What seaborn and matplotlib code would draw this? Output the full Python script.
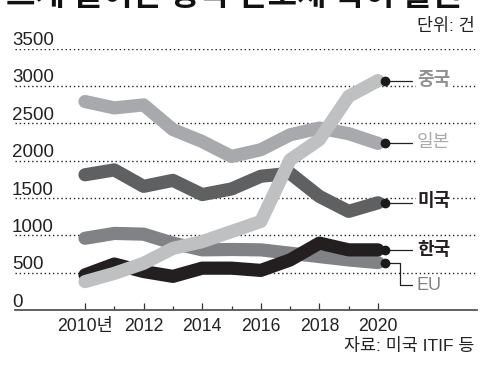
import pandas as pd
import seaborn as sns
import matplotlib.pyplot as plt

years = list(range(2010, 2021))
china = [380, 490, 625, 825, 915, 1050, 1185, 2010, 2280, 2860, 3070]
japan = [2790, 2705, 2745, 2415, 2255, 2055, 2145, 2345, 2435, 2360, 2230]
usa = [1810, 1875, 1655, 1735, 1545, 1620, 1790, 1830, 1520, 1320, 1435]
eu = [960, 1025, 1015, 895, 805, 810, 805, 760, 715, 670, 635]
korea = [470, 615, 515, 450, 560, 560, 530, 670, 895, 805, 805]

names = ['일본', '미국', 'EU', '한국', '중국']
series = [japan, usa, eu, korea, china]
colors = ['#a7a9ac', '#5f6062', '#818285', '#231f20', '#bfc0c2']
y_ticks = [0, 500, 1000, 1500, 2000, 2500, 3000, 3500]

df = pd.DataFrame({
    'year': years * len(names),
    'count': sum(series, []),
    'country': [n for n in names for _ in years],
})

sns.set_style('white')
plt.rcParams['font.family'] = ['Liberation Sans', 'Noto Sans CJK KR']

fig = plt.figure(figsize=(4.82, 3.65), dpi=100)
ax = fig.add_axes([15 / 482, 55 / 365, 462 / 482, 261.5 / 365])

# x: 2010 at 85px, 29.3px per year; y: 0 at bottom, 3500 at top
ax.set_xlim(2010 - 70 / 29.3, 2010 + 392 / 29.3)
ax.set_ylim(0, 3500)

# dotted gridlines
for v in y_ticks[1:]:
    ax.axhline(v, xmin=0, xmax=460 / 462, color='#222222', lw=1.0,
               ls=(0, (1, 2)), zorder=1)

for v in y_ticks:
    ax.text(-3 / 462, v + 45, str(v), transform=ax.get_yaxis_transform(),
            fontsize=13.5, color='#222222', ha='left', va='baseline')

sns.lineplot(data=df, x='year', y='count', hue='country', hue_order=names,
             palette=dict(zip(names, colors)), linewidth=9.5, legend=False,
             solid_capstyle='round', solid_joinstyle='round', ax=ax,
             zorder=3, clip_on=False)

# end markers, connectors and labels
label_y = {'중국': 3070, '일본': 2239, '미국': 1448, '한국': 791, 'EU': 330}
label_style = {
    '중국': ('#8e9092', 'bold'),
    '일본': ('#a7a9ac', 'normal'),
    '미국': ('#231f20', 'bold'),
    '한국': ('#231f20', 'bold'),
    'EU': ('#808285', 'normal'),
}
x_dot = 2020 + 6.5 / 29.3
x_end = 2010 + 327 / 29.3
x_lab = 2010 + 332 / 29.3
for n, s in zip(names, series):
    yv = s[-1]
    if n == 'EU':
        xe = 2010 + 315 / 29.3
        ax.plot([x_dot, xe, xe, x_end], [yv, yv, label_y[n], label_y[n]],
                color='#222222', lw=0.9, zorder=5, clip_on=False)
    else:
        ax.plot([x_dot, x_end], [yv, yv], color='#222222', lw=0.9,
                zorder=5, clip_on=False)
    ax.plot([x_dot], [yv], 'o', color='#1a1a1a', ms=6, zorder=6,
            clip_on=False)
    c, w = label_style[n]
    ax.text(x_lab, label_y[n], n, fontsize=13, color=c, fontweight=w,
            ha='left', va='center', zorder=6,
            bbox=dict(facecolor='white', edgecolor='none', pad=0.5))

# axis styling
for side in ['top', 'right', 'left']:
    ax.spines[side].set_visible(False)
ax.spines['bottom'].set_color('#555555')
ax.spines['bottom'].set_linewidth(1.3)
ax.set_yticks([])
ax.set_xticks(years[::2])
ax.set_xticks(years[1::2], minor=True)
ax.set_xticklabels(['2010년', '2012', '2014', '2016', '2018', '2020'])
ax.tick_params(axis='x', which='major', direction='in', length=5, width=0.9,
               color='#333333', labelsize=12.7, labelcolor='#222222', pad=6,
               bottom=True)
ax.tick_params(axis='x', which='minor', direction='in', length=3, width=0.9,
               color='#333333', bottom=True)
ax.set_xlabel('')
ax.set_ylabel('')

# title is cropped at the top edge in the reference; only its bottom shows
fig.text(6 / 482, 1 - 5 / 365, '크게 늘어난 중국 반도체 특허 출원', fontsize=23,
         fontweight='bold', color='#111111', ha='left', va='baseline')
fig.text(475 / 482, 1 - 26 / 365, '단위: 건', fontsize=12.5, color='#222222',
         ha='right', va='center')
fig.text(474 / 482, 1 - 346 / 365, '자료: 미국 ITIF 등', fontsize=12.5,
         color='#222222', ha='right', va='center')

fig.savefig('out.png', dpi=100)
